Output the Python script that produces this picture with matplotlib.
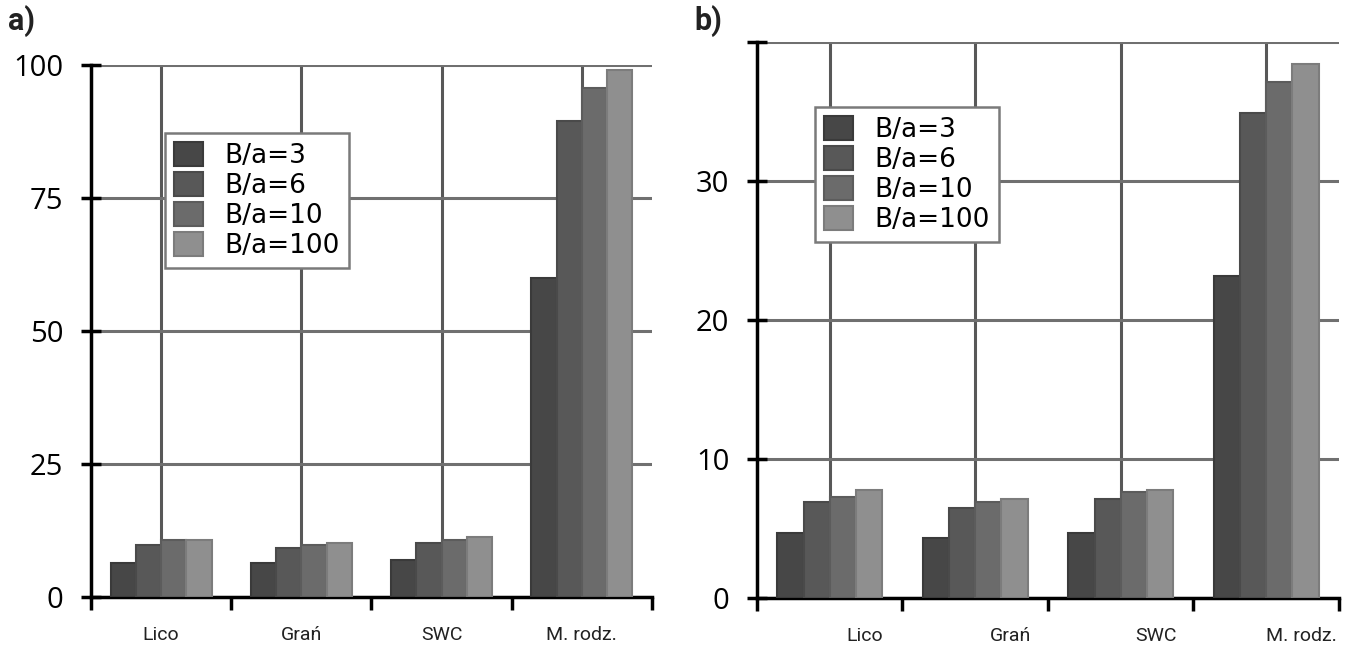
import numpy as np
import matplotlib.pyplot as plt
from matplotlib.transforms import ScaledTranslation

categories = ["Lico", "Grań", "SWC", "M. rodz."]
series = ["B/a=3", "B/a=6", "B/a=10", "B/a=100"]
vals_a = [
    [6.3, 6.3, 6.9, 60.0],
    [9.7, 9.2, 10.2, 89.5],
    [10.7, 9.7, 10.7, 95.7],
    [10.7, 10.2, 11.3, 99.0],
]
vals_b = [
    [4.7, 4.3, 4.7, 23.2],
    [6.9, 6.5, 7.1, 34.9],
    [7.3, 6.9, 7.6, 37.1],
    [7.8, 7.1, 7.8, 38.4],
]
yticks_a = [0, 25, 50, 75, 100]
yticks_b = [0, 10, 20, 30, 40]
ylabels_b = ["0", "10", "20", "30", ""]

colors = ["#474747", "#585858", "#6b6b6b", "#8f8f8f"]
edges = ["#3a3a3a", "#4a4a4a", "#5c5c5c", "#7c7c7c"]

fig = plt.figure(figsize=(13.45, 6.45), dpi=100)
ax1 = fig.add_axes([0.0677, 0.0744, 0.417, 0.825])
ax2 = fig.add_axes([0.5628, 0.0729, 0.4327, 0.862])


def draw(ax, vals, yticks, ylabels, ymax, legend_pos, label_shift):
    x = np.arange(len(categories))
    w = 0.18
    for i, s in enumerate(series):
        ax.bar(x + (i - 1.5) * w, vals[i], w, color=colors[i], edgecolor=edges[i],
               linewidth=1.5, label=s, zorder=3)
    ax.set_xlim(-0.5, len(categories) - 0.5)
    ax.set_ylim(0, ymax)
    ax.set_xticks(np.arange(len(categories) + 1) - 0.5)
    ax.set_xticklabels([])
    ax.set_xticks(x, minor=True)
    ax.set_xticklabels(categories, minor=True, fontsize=14, family="Roboto", color="#222222")
    ax.tick_params(axis="x", which="major", direction="out", length=9, width=2.5, color="black")
    ax.tick_params(axis="x", which="minor", length=0, pad=21)
    ax.set_yticks(yticks)
    ax.set_yticklabels(ylabels, fontsize=21, family="Open Sans")
    ax.tick_params(axis="y", direction="inout", length=14, width=2.5, pad=13)
    ax.grid(True, axis="y", color="#707070", linewidth=2.2, zorder=1)
    ax.grid(True, axis="x", which="minor", color="#585858", linewidth=2.2, zorder=1)
    ax.set_axisbelow(True)
    for sp in ["top", "right"]:
        ax.spines[sp].set_visible(False)
    for sp in ["left", "bottom"]:
        ax.spines[sp].set_linewidth(2.5)
        ax.spines[sp].set_color("black")
    if label_shift:
        for lab in ax.xaxis.get_minorticklabels():
            lab.set_transform(lab.get_transform() + ScaledTranslation(label_shift / 100, 0, fig.dpi_scale_trans))
    leg = ax.legend(loc="upper left", bbox_to_anchor=legend_pos, frameon=True, fancybox=False,
                    edgecolor="#7a7a7a", framealpha=1,
                    prop={"family": "DejaVu Sans", "size": 19},
                    handlelength=1.1, handleheight=1.0, handletextpad=0.8,
                    labelspacing=0.12, borderpad=0.35, borderaxespad=0)
    leg.get_frame().set_linewidth(1.8)
    leg.set_zorder(5)


draw(ax1, vals_a, yticks_a, [str(v) for v in yticks_a], 100, (0.132, 0.872), 0)
draw(ax2, vals_b, yticks_b, ylabels_b, 40, (0.1, 0.883), 35)

fig.text(0.006, 0.953, "a)", fontsize=22, fontweight="bold", family="Roboto", color="#222222", va="baseline")
fig.text(0.516, 0.953, "b)", fontsize=22, fontweight="bold", family="Roboto", color="#222222", va="baseline")

fig.savefig("out.png", dpi=100)
